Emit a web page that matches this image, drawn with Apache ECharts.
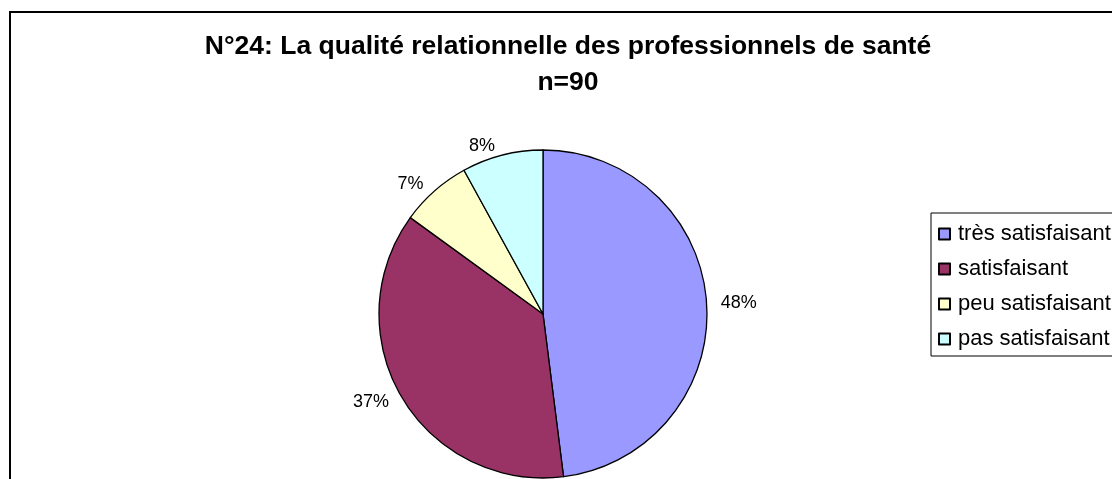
<!DOCTYPE html>
<html>
<head>
<meta charset="utf-8">
<title>N°24</title>
<script src="https://cdn.jsdelivr.net/npm/echarts@6/dist/echarts.min.js"></script>
<style>
  html, body { margin: 0; padding: 0; background: #fff; }
  #chart { width: 1112px; height: 479px; }
</style>
</head>
<body>
<div id="chart"></div>
<script>
const categories = ['très satisfaisant', 'satisfaisant', 'peu satisfaisant', 'pas satisfaisant']
const values = [48, 37, 7, 8]
const colors = ['#9999FF', '#993366', '#FFFFCC', '#CCFFFF']
const titleLines = ['N°24: La qualité relationnelle des professionnels de santé', 'n=90']

const font = 'Liberation Sans, Arial, sans-serif'
const chart = echarts.init(document.getElementById('chart'))

chart.setOption({
  animation: false,
  color: colors,
  graphic: [
    {
      type: 'rect',
      shape: { x: 10, y: 12, width: 1200, height: 600 },
      style: { fill: 'none', stroke: '#000', lineWidth: 2 }
    },
    {
      type: 'text',
      style: {
        x: 568, y: 47, text: titleLines[0],
        font: 'bold 26.5px ' + font, fill: '#000',
        align: 'center', verticalAlign: 'middle'
      }
    },
    {
      type: 'text',
      style: {
        x: 568, y: 83, text: titleLines[1],
        font: 'bold 26.5px ' + font, fill: '#000',
        align: 'center', verticalAlign: 'middle'
      }
    }
  ],
  legend: {
    orient: 'vertical',
    left: 931,
    top: 213,
    data: categories,
    icon: 'rect',
    itemWidth: 11,
    itemHeight: 11,
    itemGap: 13,
    padding: [10, 20, 6, 7],
    backgroundColor: '#fff',
    borderColor: '#000',
    borderWidth: 1,
    borderRadius: 0,
    selectedMode: false,
    textStyle: {
      fontFamily: font,
      fontSize: 22,
      lineHeight: 22,
      color: '#000',
      padding: [0, 0, 0, 3]
    }
  },
  series: [
    {
      type: 'pie',
      center: [543, 314],
      radius: 164,
      startAngle: 90,
      clockwise: true,
      silent: true,
      itemStyle: {
        borderColor: '#000',
        borderWidth: 1.3
      },
      label: {
        show: true,
        position: 'outside',
        distanceToLabelLine: 5,
        fontFamily: font,
        fontSize: 18,
        color: '#000',
        formatter: function (p) {
          return Math.round(p.percent) + '%'
        }
      },
      labelLine: {
        show: false,
        length: 9,
        length2: 0
      },
      data: categories.map(function (name, i) {
        return { name: name, value: values[i] }
      })
    }
  ]
})
</script>
</body>
</html>
